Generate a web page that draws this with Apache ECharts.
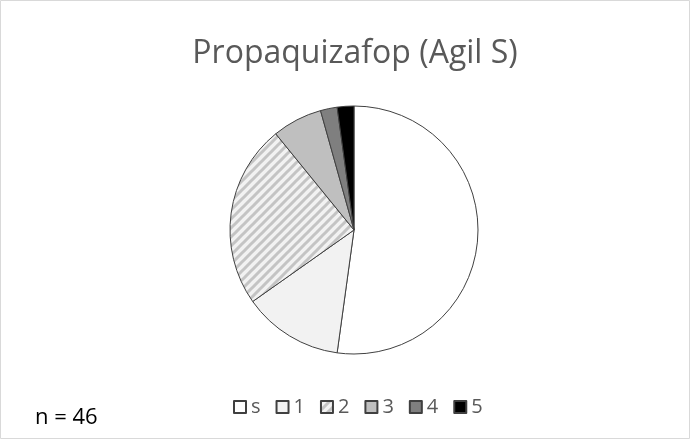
<!DOCTYPE html>
<html>
<head>
<meta charset="utf-8">
<script src="https://cdn.jsdelivr.net/npm/echarts@6/dist/echarts.min.js"></script>
<style>
  html, body { margin: 0; padding: 0; background: #fff; }
  #chart { width: 691px; height: 440px; }
</style>
</head>
<body>
<div id="chart"></div>
<script>
const categories = ["s", "1", "2", "3", "4", "5"];
const counts = [24, 6, 11, 3, 1, 1];
const total = 46;

// diagonal hatch for class 2
function hatch() {
  const c = document.createElement("canvas");
  c.width = 9;
  c.height = 9;
  const g = c.getContext("2d");
  g.fillStyle = "#f2f2f2";
  g.fillRect(0, 0, 9, 9);
  g.strokeStyle = "#c4c4c4";
  g.lineWidth = 3;
  g.beginPath();
  g.moveTo(-2, 11); g.lineTo(11, -2);
  g.moveTo(-7, 7); g.lineTo(7, -7);
  g.moveTo(2, 16); g.lineTo(16, 2);
  g.stroke();
  return c;
}

const fills = ["#ffffff", "#f2f2f2", { image: hatch(), repeat: "repeat" }, "#bfbfbf", "#7f7f7f", "#000000"];

const chart = echarts.init(document.getElementById("chart"));
chart.setOption({
  animation: false,
  title: {
    text: "Propaquizafop (Agil S)",
    left: 350,
    top: 33,
    textAlign: "center",
    textStyle: { fontFamily: "Open Sans", fontSize: 32, fontWeight: "normal", color: "#595959" }
  },
  graphic: [
    {
      type: "rect",
      shape: { x: 0.5, y: 0.5, width: 689, height: 438 },
      style: { fill: "none", stroke: "#d9d9d9", lineWidth: 1 }
    },
    {
      type: "text",
      left: 35,
      top: 407,
      style: { text: "n = " + total, font: "22px 'Open Sans'", fill: "#000" }
    }
  ],
  legend: {
    bottom: 18,
    left: 228,
    icon: "rect",
    itemWidth: 12,
    itemHeight: 12,
    itemGap: 15,
    textStyle: { fontFamily: "Open Sans", fontSize: 20, color: "#595959" },
    data: categories
  },
  series: [{
    type: "pie",
    center: [354, 230],
    radius: 124,
    startAngle: 90,
    clockwise: true,
    label: { show: false },
    labelLine: { show: false },
    emphasis: { disabled: true },
    itemStyle: { borderColor: "#404040", borderWidth: 1 },
    data: categories.map((name, i) => ({
      name: name,
      value: counts[i],
      itemStyle: { color: fills[i] }
    }))
  }]
});
</script>
</body>
</html>
